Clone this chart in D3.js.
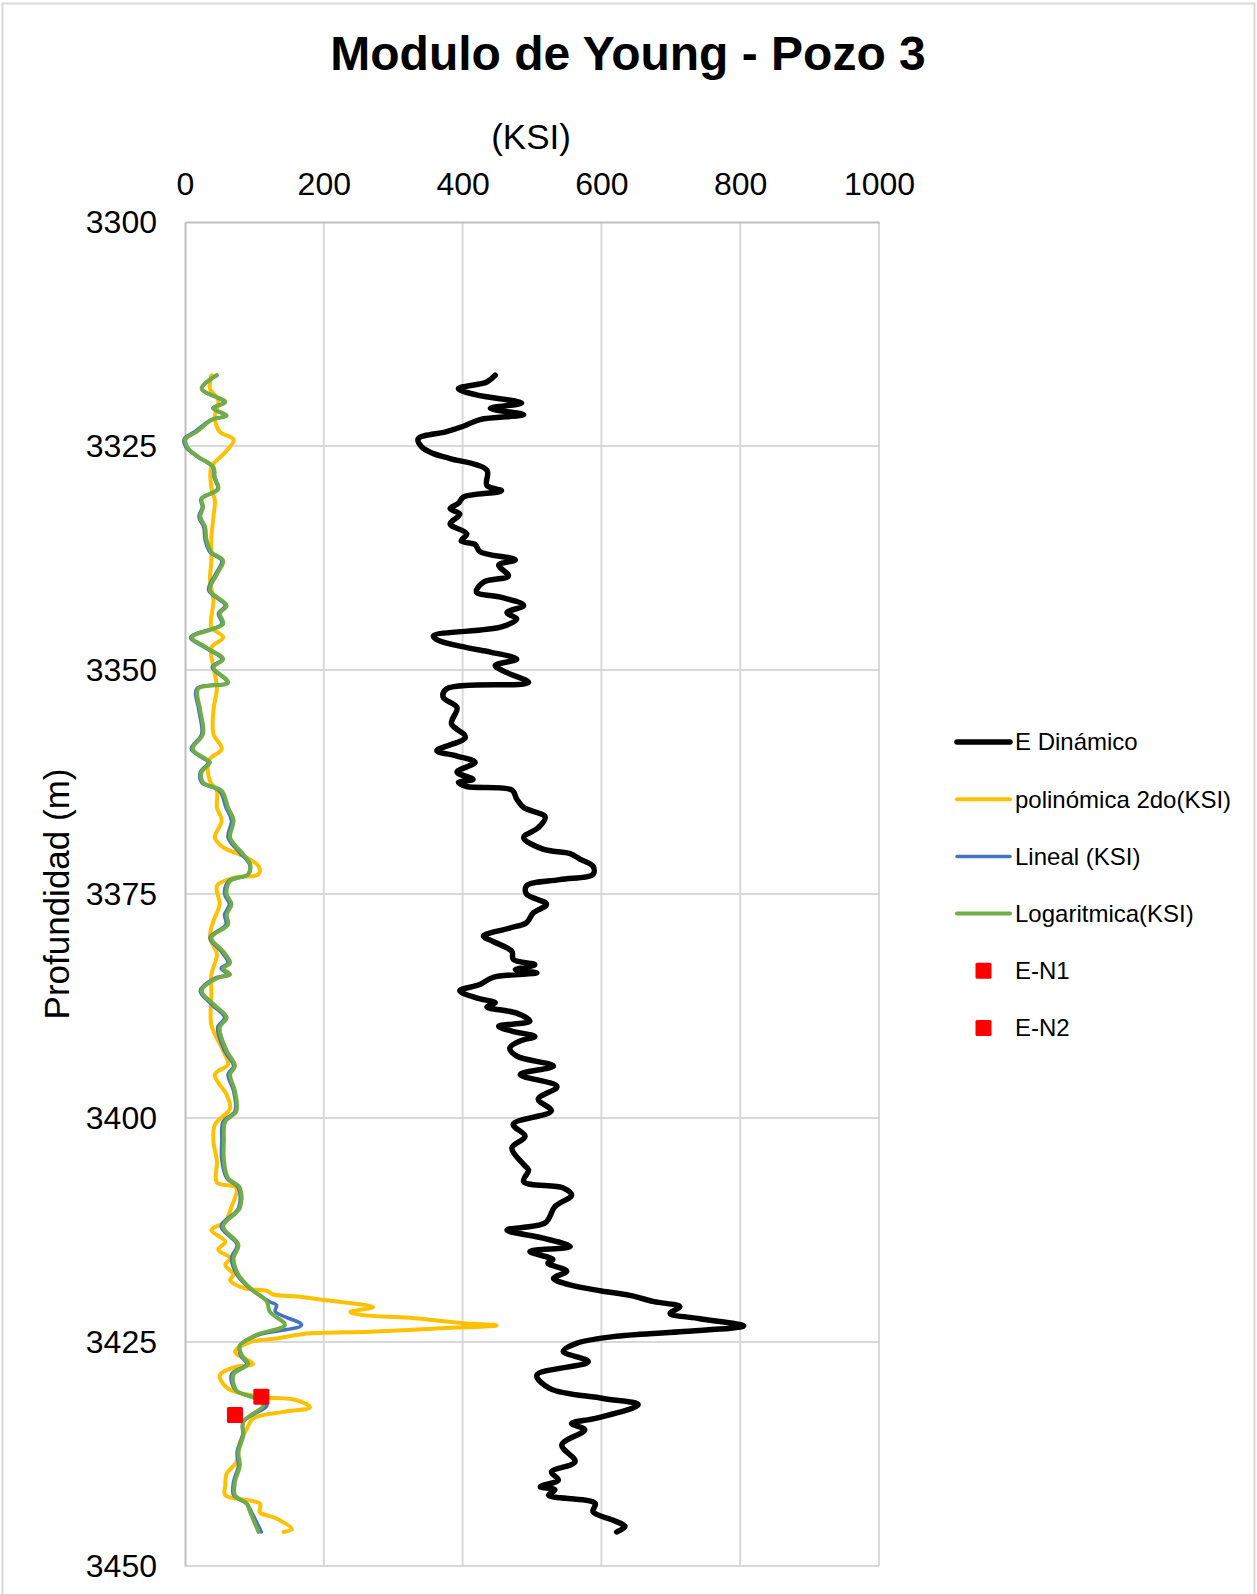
<!DOCTYPE html>
<html>
<head>
<meta charset="utf-8">
<script src="https://cdn.jsdelivr.net/npm/d3@7"></script>
<style>
  body { margin: 0; background: #fff; }
  svg { font-family: "Liberation Sans", Arial, sans-serif; }
</style>
</head>
<body>
<svg id="chart" width="1257" height="1594"></svg>
<script>
// [depth (m), value (KSI)]
const eDinamico = [
  [3317.1, 447], [3317.85, 435], [3318.6, 394], [3319.3, 420], [3320.2, 485], [3320.8, 440],
  [3321.5, 488], [3322.05, 425], [3322.8, 401], [3323.4, 377], [3324.2, 336], [3325.1, 341],
  [3325.85, 358], [3326.4, 382], [3327.7, 435], [3329.4, 435], [3330.0, 456], [3330.7, 401],
  [3331.4, 394], [3332.0, 382], [3332.6, 396], [3333.7, 382], [3334.8, 406], [3335.6, 398],
  [3336.0, 418], [3336.8, 425], [3337.7, 476], [3338.3, 452], [3339.5, 466], [3340.2, 430],
  [3341.3, 420], [3341.9, 456], [3342.8, 488], [3343.6, 464], [3344.3, 478], [3345.2, 456],
  [3346.2, 358], [3346.7, 365], [3347.5, 406], [3348.0, 440], [3348.8, 478], [3349.5, 447],
  [3350.3, 464], [3351.4, 495], [3352.1, 377], [3353.05, 372], [3354.2, 392], [3356.0, 384],
  [3357.5, 404], [3359.0, 363], [3359.6, 392], [3360.3, 418], [3361.4, 392], [3362.2, 415],
  [3362.55, 394], [3363.0, 406], [3363.4, 471], [3364.4, 478], [3365.35, 488], [3366.4, 519],
  [3367.6, 509], [3368.7, 488], [3370.0, 516], [3370.5, 555], [3371.1, 569], [3371.9, 588],
  [3372.8, 588], [3373.4, 540], [3374.1, 492], [3375.0, 492], [3376.15, 521], [3377.1, 502],
  [3378.2, 492], [3378.8, 468], [3379.7, 430], [3380.3, 444], [3381.4, 471], [3382.3, 473],
  [3382.9, 504], [3383.45, 476], [3383.8, 507], [3384.3, 444], [3385.1, 425], [3385.8, 396],
  [3386.6, 420], [3387.15, 447], [3387.6, 435], [3388.3, 478], [3389.2, 497], [3389.75, 452],
  [3390.3, 471], [3390.9, 504], [3391.4, 483], [3392.2, 468], [3393.1, 478], [3394.2, 531],
  [3395.15, 483], [3396.5, 536], [3397.9, 509], [3399.2, 528], [3400.7, 473], [3402.05, 490],
  [3403.35, 471], [3405.2, 488], [3405.8, 495], [3407.1, 488], [3407.8, 545], [3408.6, 557],
  [3409.9, 533], [3411.7, 519], [3412.5, 464], [3413.4, 516], [3414.35, 555], [3414.9, 497],
  [3415.8, 530], [3416.2, 523], [3417.1, 550], [3417.9, 531], [3418.6, 553], [3419.3, 600],
  [3419.8, 641], [3420.5, 676], [3421.05, 713], [3421.8, 699], [3422.4, 742], [3423.2, 805],
  [3423.85, 713], [3424.4, 617], [3425.15, 564], [3426.05, 545], [3427.2, 581], [3428.7, 507],
  [3430.2, 526], [3431.3, 603], [3432.0, 653], [3433.5, 593], [3434.1, 557], [3434.8, 576],
  [3436.5, 543], [3438.35, 562], [3439.5, 528], [3440.4, 538], [3441.15, 512], [3441.5, 533],
  [3442.1, 524], [3443.0, 591], [3443.95, 588], [3444.9, 617], [3445.6, 634], [3446.2, 622]
];

const polinomica = [
  [3317.1, 38], [3318.6, 36], [3319.9, 48], [3321.8, 43], [3323.4, 50], [3324.3, 70],
  [3325.7, 58], [3327.35, 38], [3329.6, 38], [3331.1, 43], [3332.9, 41], [3335.2, 38],
  [3337.8, 38], [3340.0, 36], [3342.25, 41], [3345.2, 38], [3346.35, 55], [3347.5, 38],
  [3349.7, 41], [3351.9, 46], [3354.5, 41], [3357.15, 41], [3358.8, 53], [3360.1, 34],
  [3362.4, 36], [3363.5, 46], [3365.35, 46], [3366.8, 53], [3368.7, 43], [3369.8, 55],
  [3370.75, 84], [3371.9, 106], [3372.8, 106], [3373.2, 70], [3374.1, 46], [3376.15, 50],
  [3378.0, 41], [3379.9, 36], [3381.7, 46], [3384.0, 38], [3386.2, 38], [3389.6, 38],
  [3392.5, 55], [3394.0, 62], [3395.15, 43], [3397.4, 60], [3398.9, 65], [3400.75, 43],
  [3402.6, 41], [3404.8, 46], [3407.2, 46], [3407.8, 74], [3409.9, 67], [3411.55, 58],
  [3412.5, 38], [3413.8, 58], [3414.7, 48], [3415.65, 65], [3416.4, 58], [3417.5, 70],
  [3418.1, 65], [3419.0, 86], [3419.3, 118], [3419.7, 127], [3419.95, 166], [3420.35, 204],
  [3421.1, 271], [3421.65, 238], [3422.0, 257], [3422.3, 324], [3422.9, 401], [3423.15, 449],
  [3423.5, 363], [3423.85, 267], [3424.1, 171], [3424.6, 132], [3425.0, 94], [3426.1, 72],
  [3427.45, 98], [3427.8, 72], [3428.7, 50], [3430.2, 62], [3431.1, 108], [3431.5, 161],
  [3432.3, 180], [3432.8, 142], [3433.55, 98], [3434.7, 89], [3436.2, 79], [3438.4, 74],
  [3439.7, 60], [3441.0, 58], [3442.1, 58], [3443.05, 108], [3444.0, 108], [3444.7, 132],
  [3445.9, 154], [3446.2, 142]
];

const lineal = [
  [3317.1, 45], [3318.6, 24], [3320.1, 56], [3320.8, 40], [3321.6, 58], [3322.1, 37],
  [3323.4, 14], [3324.2, -1], [3325.1, 1], [3326.2, 18], [3327.35, 40], [3328.5, 42],
  [3329.8, 47], [3330.9, 23], [3331.8, 25], [3332.9, 20], [3334.05, 27], [3335.5, 29],
  [3336.85, 36], [3337.8, 53], [3339.3, 44], [3341.1, 34], [3342.8, 58], [3343.7, 48],
  [3344.85, 53], [3346.35, 8], [3347.5, 29], [3348.8, 53], [3349.7, 39], [3351.4, 61],
  [3352.1, 17], [3354.5, 20], [3357.15, 24], [3358.8, 9], [3359.9, 27], [3360.3, 34],
  [3361.4, 22], [3362.55, 24], [3363.5, 50], [3365.35, 59], [3366.8, 67], [3368.7, 62],
  [3370.4, 79], [3371.7, 93], [3372.8, 91], [3373.55, 63], [3375.0, 57], [3376.15, 64],
  [3377.3, 57], [3378.4, 59], [3379.9, 36], [3381.4, 52], [3382.7, 62], [3383.3, 52],
  [3384.0, 62], [3384.4, 43], [3385.8, 22], [3387.3, 38], [3388.8, 57], [3389.9, 47],
  [3392.5, 57], [3394.2, 70], [3395.15, 62], [3397.0, 70], [3399.25, 72], [3400.4, 55],
  [3402.6, 53], [3404.7, 53], [3406.7, 60], [3407.8, 77], [3410.05, 77], [3412.1, 52],
  [3414.15, 75], [3415.65, 67], [3417.5, 75], [3419.0, 93], [3420.5, 122], [3420.9, 132],
  [3421.6, 130], [3423.1, 168], [3424.2, 106], [3425.4, 79], [3426.5, 80], [3427.45, 89],
  [3428.6, 67], [3430.4, 73], [3431.3, 104], [3432.05, 118], [3433.9, 84], [3435.4, 83],
  [3437.3, 75], [3438.8, 77], [3440.6, 70], [3442.1, 70], [3443.05, 89], [3444.0, 96],
  [3446.2, 110]
];

const logaritmica = [
  [3317.1, 46], [3318.6, 24], [3320.1, 58], [3320.8, 41], [3321.6, 60], [3322.1, 38],
  [3323.4, 17], [3324.2, 1], [3325.1, 3], [3326.2, 19], [3327.35, 41], [3328.5, 43],
  [3329.8, 48], [3330.9, 24], [3331.8, 26], [3332.9, 22], [3334.05, 29], [3335.5, 31],
  [3336.85, 38], [3337.8, 55], [3339.3, 46], [3341.1, 36], [3342.8, 60], [3343.7, 50],
  [3344.85, 55], [3346.35, 10], [3347.5, 31], [3348.8, 55], [3349.7, 41], [3351.4, 62],
  [3352.1, 19], [3354.5, 22], [3357.15, 26], [3358.8, 11], [3359.9, 29], [3360.3, 36],
  [3361.4, 24], [3362.55, 26], [3363.5, 53], [3365.35, 62], [3366.8, 70], [3368.7, 65],
  [3370.4, 82], [3371.7, 94], [3372.8, 91], [3373.55, 65], [3375.0, 60], [3376.15, 67],
  [3377.3, 60], [3378.4, 62], [3379.9, 38], [3381.4, 55], [3382.7, 65], [3383.3, 55],
  [3384.0, 65], [3384.4, 46], [3385.8, 24], [3387.3, 41], [3388.8, 60], [3389.9, 50],
  [3392.5, 60], [3394.2, 72], [3395.15, 65], [3397.0, 72], [3399.25, 74], [3400.4, 58],
  [3402.6, 56], [3404.7, 56], [3406.7, 62], [3407.8, 79], [3410.05, 79], [3412.1, 55],
  [3414.15, 77], [3415.65, 70], [3417.5, 77], [3419.0, 94], [3420.5, 118], [3421.6, 122],
  [3423.1, 144], [3424.2, 103], [3425.4, 79], [3426.5, 82], [3427.45, 91], [3428.6, 70],
  [3430.4, 74], [3431.3, 101], [3432.05, 113], [3433.9, 84], [3435.4, 84], [3437.3, 77],
  [3438.8, 79], [3440.6, 72], [3442.1, 72], [3443.05, 89], [3444.0, 94], [3446.2, 106]
];

const eN1 = [[3431.1, 110]];
const eN2 = [[3433.15, 72]];

const xTicks = [0, 200, 400, 600, 800, 1000];
const yTicks = [3300, 3325, 3350, 3375, 3400, 3425, 3450];

const series = [
  { name: 'E Dinámico', data: eDinamico, color: '#000000', width: 5.5, type: 'line' },
  { name: 'polinómica 2do(KSI)', data: polinomica, color: '#FFC000', width: 4, type: 'line' },
  { name: 'Lineal (KSI)', data: lineal, color: '#4472C4', width: 3.5, type: 'line' },
  { name: 'Logaritmica(KSI)', data: logaritmica, color: '#70AD47', width: 4, type: 'line' },
  { name: 'E-N1', data: eN1, color: '#FF0000', type: 'point' },
  { name: 'E-N2', data: eN2, color: '#FF0000', type: 'point' }
];

const svg = d3.select('#chart');

// chart border
svg.append('rect')
  .attr('x', 2.5).attr('y', 3.5)
  .attr('width', 1252).attr('height', 1600)
  .attr('fill', 'none')
  .attr('stroke', '#d9d9d9')
  .attr('stroke-width', 2);

const x = d3.scaleLinear().domain([0, 1000]).range([185, 879]);
const y = d3.scaleLinear().domain([3300, 3450]).range([222, 1566]);

// gridlines
svg.append('g').selectAll('line').data(xTicks.slice(1)).join('line')
  .attr('x1', d => x(d)).attr('x2', d => x(d))
  .attr('y1', y(3300)).attr('y2', y(3450))
  .attr('stroke', '#d9d9d9').attr('stroke-width', 2);

svg.append('g').selectAll('line').data(yTicks.slice(1)).join('line')
  .attr('x1', x(0)).attr('x2', x(1000))
  .attr('y1', d => y(d)).attr('y2', d => y(d))
  .attr('stroke', '#d9d9d9').attr('stroke-width', 2);

// axes
const xAxis = svg.append('g')
  .attr('transform', `translate(0,${y(3300)})`)
  .call(d3.axisTop(x).tickValues(xTicks).tickSize(0).tickPadding(27).tickFormat(d3.format('d')));
const yAxis = svg.append('g')
  .attr('transform', `translate(${x(0)},0)`)
  .call(d3.axisLeft(y).tickValues(yTicks).tickSize(0).tickPadding(28).tickFormat(d3.format('d')));

[xAxis, yAxis].forEach(a => {
  a.select('.domain').attr('stroke', '#bfbfbf').attr('stroke-width', 2);
  a.selectAll('text')
    .attr('font-family', '"Liberation Sans", Arial, sans-serif')
    .attr('font-size', 32)
    .attr('fill', '#000');
});

// titles
svg.append('text')
  .attr('x', 628).attr('y', 70)
  .attr('text-anchor', 'middle')
  .attr('font-size', 48).attr('font-weight', 'bold')
  .text('Modulo de Young - Pozo 3');

svg.append('text')
  .attr('x', 531).attr('y', 149)
  .attr('text-anchor', 'middle')
  .attr('font-size', 35)
  .text('(KSI)');

svg.append('text')
  .attr('transform', `translate(69,${(y(3300) + y(3450)) / 2}) rotate(-90)`)
  .attr('text-anchor', 'middle')
  .attr('font-size', 35)
  .text('Profundidad (m)');

// series lines
const line = d3.line()
  .x(d => x(d[1]))
  .y(d => y(d[0]))
  .curve(d3.curveCatmullRom.alpha(0.5));

series.filter(s => s.type === 'line').forEach(s => {
  svg.append('path')
    .datum(s.data)
    .attr('d', line)
    .attr('fill', 'none')
    .attr('stroke', s.color)
    .attr('stroke-width', s.width)
    .attr('stroke-linejoin', 'round')
    .attr('stroke-linecap', 'round');
});

// points
const size = 16;
series.filter(s => s.type === 'point').forEach(s => {
  svg.append('g').selectAll('rect').data(s.data).join('rect')
    .attr('x', d => x(d[1]) - size / 2)
    .attr('y', d => y(d[0]) - size / 2)
    .attr('width', size).attr('height', size)
    .attr('rx', 1.5)
    .attr('fill', s.color);
});

// legend
const legend = svg.append('g').attr('transform', 'translate(957,742)');
const rowH = 57.2;
series.forEach((s, i) => {
  const g = legend.append('g').attr('transform', `translate(0,${i * rowH})`);
  if (s.type === 'line') {
    g.append('line')
      .attr('x1', 0).attr('x2', 53)
      .attr('stroke', s.color)
      .attr('stroke-width', s.width)
      .attr('stroke-linecap', 'round');
  } else {
    g.append('rect')
      .attr('x', 26.5 - 8).attr('y', -8)
      .attr('width', 16).attr('height', 16)
      .attr('rx', 1.5)
      .attr('fill', s.color);
  }
  g.append('text')
    .attr('x', 58).attr('dy', '0.35em')
    .attr('font-size', 24)
    .text(s.name);
});
</script>
</body>
</html>
